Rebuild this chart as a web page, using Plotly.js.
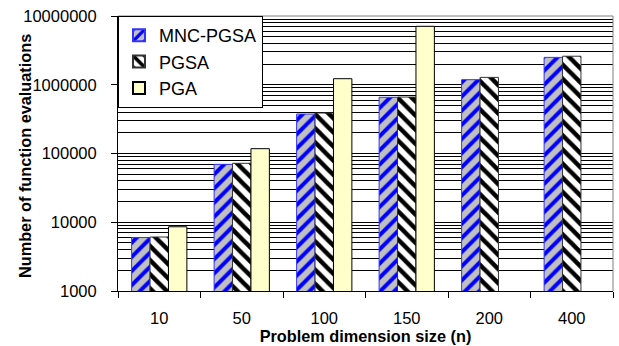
<!DOCTYPE html>
<html>
<head>
<meta charset="utf-8">
<script src="https://cdn.plot.ly/plotly-3.0.1.min.js"></script>
<style>html,body{margin:0;padding:0;background:#fff;}#chart{width:619px;height:346px;}</style>
</head>
<body>
<div id="chart"></div>
<script>
var categories = ["10", "50", "100", "150", "200", "400"];
var mncPgsa = [6000, 69500, 375000, 657000, 1185000, 2500000];
var pgsa = [6100, 72000, 388000, 662000, 1280000, 2600000];
var pga = [8600, 117500, 1225000, 7080000, null, null];
var seriesNames = ["MNC-PGSA", "PGSA", "PGA"];
var yTickVals = [1000, 10000, 100000, 1000000, 10000000];
var yTickText = ["1000", "10000", "100000", "1000000", "10000000"];
var minorMultipliers = [2, 3, 4, 5, 6, 7, 8, 9];
var xTitle = "Problem dimension size (n)";
var yTitle = "Number of function evaluations";

var minorVals = [];
yTickVals.slice(0, -1).forEach(function (d) {
  minorMultipliers.forEach(function (m) { minorVals.push(d * m); });
});

var traces = [
  {
    type: "bar", name: seriesNames[0], x: categories, y: mncPgsa,
    marker: {
      color: "#c0c0c0",
      pattern: {shape: "/", bgcolor: "#c0c0c0", fgcolor: "#0000ff", size: 10, solidity: 0.4, fillmode: "replace"},
      line: {color: "#3333ff", width: 1}
    }
  },
  {
    type: "bar", name: seriesNames[1], x: categories, y: pgsa,
    marker: {
      color: "#ffffff",
      pattern: {shape: "\\", bgcolor: "#ffffff", fgcolor: "#000000", size: 10, solidity: 0.45, fillmode: "replace"},
      line: {color: "#333333", width: 1}
    }
  },
  {
    type: "bar", name: seriesNames[2], x: categories, y: pga,
    marker: {color: "#ffffcc", line: {color: "#000000", width: 1}}
  }
];

var layout = {
  width: 619, height: 346,
  margin: {l: 118, r: 6, t: 16, b: 55},
  paper_bgcolor: "#ffffff", plot_bgcolor: "#ffffff",
  font: {family: "Liberation Sans, Arial, sans-serif", color: "#000", size: 17},
  barmode: "group", bargap: 0.33, bargroupgap: 0,
  showlegend: true,
  legend: {
    x: 0, y: 1, xanchor: "left", yanchor: "top",
    bgcolor: "#ffffff", bordercolor: "#000000", borderwidth: 1,
    font: {size: 18}, tracegroupgap: 0, itemsizing: "constant"
  },
  xaxis: {
    type: "category",
    showline: true, linecolor: "#000", linewidth: 1,
    ticks: "outside", tickson: "boundaries", ticklen: 6, tickcolor: "#000",
    tickfont: {size: 16.5}, ticklabelstandoff: 12,
    showgrid: false, zeroline: false,
    title: {text: xTitle, font: {size: 16.3, weight: "bold"}, standoff: 0}
  },
  yaxis: {
    type: "log", range: [3, 7],
    showline: true, linecolor: "#000", linewidth: 1,
    tickmode: "array", tickvals: yTickVals, ticktext: yTickText,
    ticks: "outside", ticklen: 6, tickcolor: "#000",
    tickfont: {size: 16.5}, ticklabelstandoff: 11,
    showgrid: true, gridcolor: "#000", gridwidth: 1,
    minor: {tickmode: "array", tickvals: minorVals, showgrid: true, gridcolor: "#000", gridwidth: 1, ticks: ""},
    zeroline: false
  },
  annotations: [
    {text: "<b>" + yTitle + "</b>", xref: "paper", yref: "paper", x: 0, y: 0.5,
     xanchor: "center", yanchor: "middle", xshift: -93.5, yshift: -3,
     textangle: -90, showarrow: false, font: {size: 16.3}}
  ],
  shapes: [
    {type: "line", xref: "paper", yref: "paper", x0: 0, x1: 1, y0: 1, y1: 1, line: {color: "#808080", width: 1}, layer: "above"},
    {type: "line", xref: "paper", yref: "paper", x0: 1, x1: 1, y0: 0, y1: 1, line: {color: "#808080", width: 1}, layer: "above"}
  ]
};

Plotly.newPlot("chart", traces, layout, {displayModeBar: false, staticPlot: true});
</script>
</body>
</html>
